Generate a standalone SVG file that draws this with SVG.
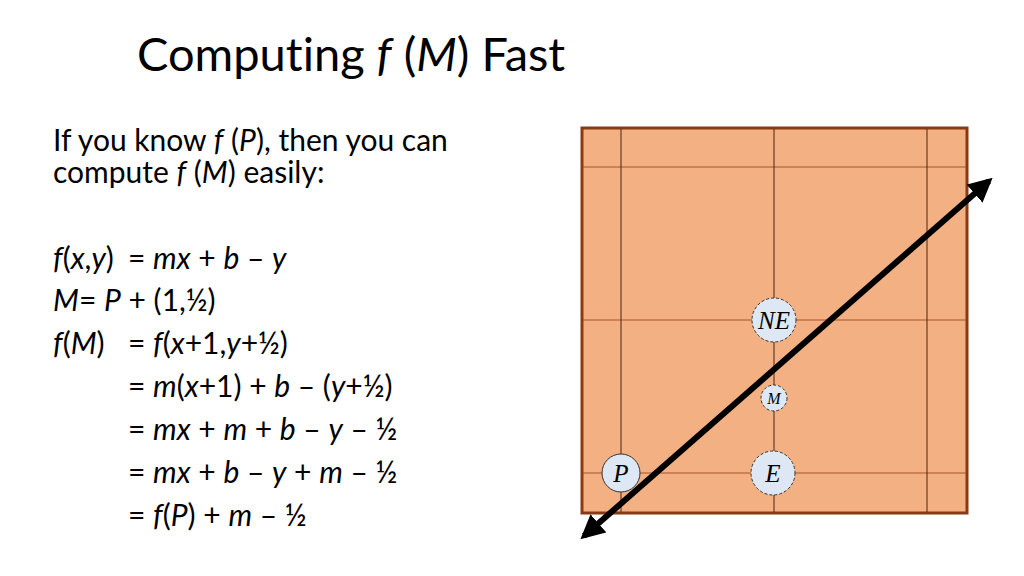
<svg xmlns="http://www.w3.org/2000/svg" width="1024" height="576" viewBox="0 0 1024 576">
<defs>
<style>
.t{font-family:Lato,"Liberation Sans",sans-serif;fill:#000;font-variant-ligatures:none}
.title{font-size:47px}
.body{font-size:30px}
.i{font-style:italic}
.vg{stroke:#4a2410;stroke-width:1}
.hg{stroke:#a5552a;stroke-width:1.2}
.pt{fill:#dde8f4;stroke:#333;stroke-width:1}
.dash{stroke-dasharray:3 2}
.lbl{font-family:"Liberation Serif","Times New Roman",serif;font-style:italic;fill:#000;text-anchor:middle}
</style>
<marker id="ah" viewBox="0 0 10 10" refX="8" refY="5" markerWidth="4" markerHeight="4" orient="auto-start-reverse" markerUnits="strokeWidth">
<path d="M0,0 L10,5 L0,10 z" fill="#000"/>
</marker>
</defs>
<rect width="1024" height="576" fill="#fff"/>
<g id="title">
<text class="t title" x="137" y="71">Computing <tspan class="i">f</tspan> (<tspan class="i">M</tspan>) Fast</text>
</g>
<g id="intro">
<text class="t body" x="53" y="151">If you know <tspan class="i">f</tspan> (<tspan class="i">P</tspan>), then you can</text>
<text class="t body" x="53" y="183">compute <tspan class="i">f</tspan> (<tspan class="i">M</tspan>) easily:</text>
</g>
<g id="equations">
<text class="t body" x="53" y="269"><tspan class="i">f</tspan>(<tspan class="i">x</tspan>,<tspan class="i">y</tspan>)<tspan x="128">= </tspan><tspan class="i">mx</tspan> + <tspan class="i">b</tspan> – <tspan class="i">y</tspan></text>
<text class="t body" x="53" y="311"><tspan class="i">M</tspan>= <tspan class="i">P</tspan> + (1,½)</text>
<text class="t body" x="53" y="354"><tspan class="i">f</tspan>(<tspan class="i">M</tspan>)<tspan x="128">= </tspan><tspan class="i">f</tspan>(<tspan class="i">x</tspan>+1,<tspan class="i">y</tspan>+½)</text>
<text class="t body" x="128" y="397">= <tspan class="i">m</tspan>(<tspan class="i">x</tspan>+1) + <tspan class="i">b</tspan> – (<tspan class="i">y</tspan>+½)</text>
<text class="t body" x="128" y="440">= <tspan class="i">mx</tspan> + <tspan class="i">m</tspan> + <tspan class="i">b</tspan> – <tspan class="i">y</tspan> – ½</text>
<text class="t body" x="128" y="483">= <tspan class="i">mx</tspan> + <tspan class="i">b</tspan> – <tspan class="i">y</tspan> + <tspan class="i">m</tspan> – ½</text>
<text class="t body" x="128" y="526">= <tspan class="i">f</tspan>(<tspan class="i">P</tspan>) + <tspan class="i">m</tspan> – ½</text>
</g>
<g id="grid">
<rect x="582" y="128" width="385" height="385" fill="#f2b083" stroke="#8a3a10" stroke-width="3"/>
<line class="hg" x1="583" y1="167" x2="966" y2="167"/>
<line class="hg" x1="583" y1="320" x2="966" y2="320"/>
<line class="hg" x1="583" y1="473" x2="966" y2="473"/>
<line class="vg" x1="621" y1="129" x2="621" y2="512"/>
<line class="vg" x1="774" y1="129" x2="774" y2="512"/>
<line class="vg" x1="927" y1="129" x2="927" y2="512"/>
</g>
<g id="connectors">
<line x1="584" y1="536" x2="989" y2="181" stroke="#000" stroke-width="6" marker-start="url(#ah)" marker-end="url(#ah)"/>
</g>
<g id="node-P">
<circle class="pt" cx="621" cy="473" r="19"/>
<text class="lbl" x="621" y="482" font-size="25">P</text>
</g>
<g id="node-NE">
<circle class="pt dash" cx="774" cy="320" r="22"/>
<text class="lbl" x="774" y="329" font-size="25">NE</text>
</g>
<g id="node-M">
<circle class="pt dash" cx="774" cy="398" r="13"/>
<text class="lbl" x="774" y="404" font-size="16">M</text>
</g>
<g id="node-E">
<circle class="pt dash" cx="773" cy="473" r="22"/>
<text class="lbl" x="773" y="482" font-size="25">E</text>
</g>
</svg>
